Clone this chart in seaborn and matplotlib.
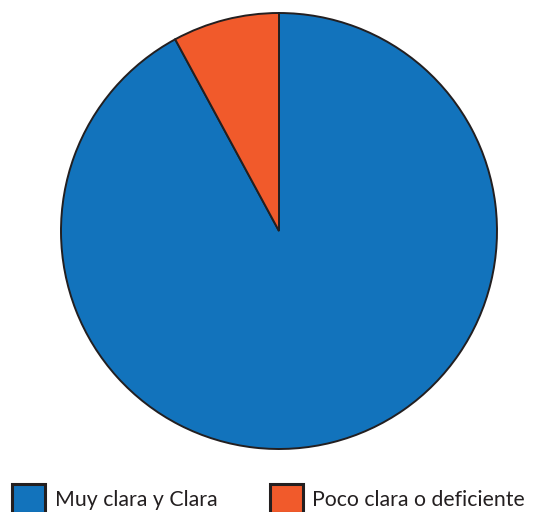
import matplotlib
matplotlib.use("Agg")
import matplotlib.pyplot as plt
import seaborn as sns
from matplotlib.patches import Patch

categories = ["Muy clara y Clara", "Poco clara o deficiente"]
values = [92.1, 7.9]
colors = ["#1273BC", "#F15A2B"]
edge = "#231F20"

sns.set_theme(style="white")
plt.rcParams['font.family'] = ['Lato', 'DejaVu Sans']

W, H = 540, 512
fig = plt.figure(figsize=(W / 100, H / 100), dpi=100)
cx, cy, r = 279, 512 - 231, 218
ax = fig.add_axes([(cx - r) / W, (cy - r) / H, 2 * r / W, 2 * r / H])
ax.pie(values, colors=colors, startangle=90, counterclock=False, radius=1,
       wedgeprops=dict(edgecolor=edge, linewidth=1.4))
ax.set_xlim(-1.0, 1.0)
ax.set_ylim(-1.0, 1.0)
ax.set_aspect("equal")
ax.axis("off")

fs = 15.3
xs = [12, 270]
for i, (cat, c) in enumerate(zip(categories, colors)):
    h = Patch(facecolor=c, edgecolor=edge, linewidth=2.2)
    leg = fig.legend([h], [cat], loc="upper left",
                     bbox_to_anchor=(xs[i] / W, 1 - 484 / H), frameon=False,
                     fontsize=fs, handlelength=1.55, handleheight=1.75,
                     handletextpad=0.45, borderpad=0, borderaxespad=0)
    for t in leg.get_texts():
        t.set_color("#231F20")

fig.savefig("out.png", dpi=100)
